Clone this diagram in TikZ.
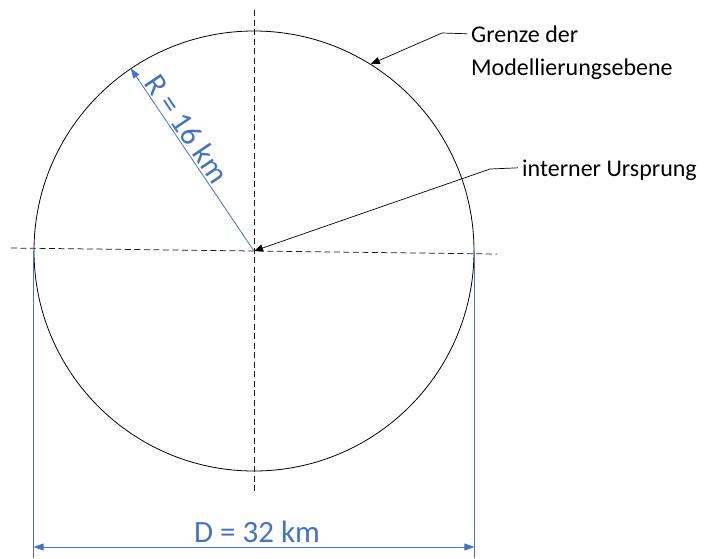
\documentclass[tikz,border=0pt]{standalone}
\usepackage{fontspec}
\setmainfont{Carlito}
\usetikzlibrary{arrows.meta}
\definecolor{dimblue}{HTML}{4472C4}
\begin{document}
\begin{tikzpicture}[x=1pt,y=-1pt,
  outline/.style={draw, circle, minimum size=440pt, inner sep=0pt, line width=0.8pt},
  axisline/.style={black!90, line width=0.75pt, dash pattern=on 6pt off 3.5pt},
  leader/.style={line width=0.7pt, -{Triangle[length=9pt,width=7pt]}},
  dimline/.style={dimblue, line width=0.8pt},
  dimarrow/.style={dimline, {Triangle[length=10pt,width=7pt]}-{Triangle[length=10pt,width=7pt]}},
  lbl/.style={inner sep=0pt, font=\fontsize{24}{28}\selectfont},
  dimlbl/.style={text=dimblue, font=\fontsize{31}{36}\selectfont}]
\useasboundingbox (0,0) rectangle (706,558);
\coordinate (O) at (254,251);
\node[outline] (C) at (O) {};
% axes
\coordinate (hl) at (11,248);
\coordinate (hr) at (497,254);
\coordinate (vt) at (254,10);
\coordinate (vb) at (254,492);
\draw[axisline] (hl) -- (hr);
\draw[axisline] (vt) -- (vb);
% radius
\draw[dimline, -{Triangle[length=10pt,width=7pt]}] (O) -- (C.124) coordinate[pos=0.63] (rm);
\node[dimlbl, rotate=-56, anchor=south, inner sep=2pt] (rlab) at (rm) {R = 16 km};
% diameter
\coordinate (dlow) at (0,558);
\coordinate (darr) at (0,547);
\draw[dimline] (C.west) -- (C.west |- dlow);
\draw[dimline] (C.east) -- (C.east |- dlow);
\draw[dimarrow] (C.west |- darr) -- (C.east |- darr);
\node[dimlbl, anchor=base, inner sep=0pt] (dlab) at (257,542) {D = 32 km};
% labels
\node[lbl, anchor=base west] (g1) at (471,42) {Grenze der};
\node[lbl, anchor=base west] (g2) at (471,75) {Modellierungsebene};
\node[lbl, anchor=base west] (i1) at (522,176) {interner Ursprung};
\coordinate (k1) at (442,33);
\coordinate (k2) at (490,169);
\draw[leader] ([xshift=-4pt]g1.west) -- (k1) -- (C.58);
\draw[leader] ([xshift=-4pt,yshift=2pt]i1.west) -- (k2) -- (O);
\end{tikzpicture}
\end{document}
